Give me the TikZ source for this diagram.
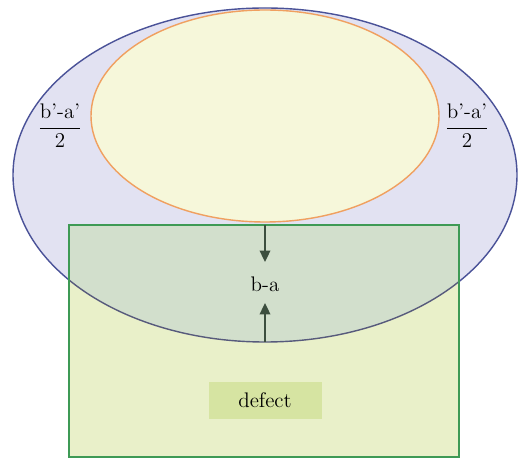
\documentclass[tikz,border=0pt]{standalone}
\usepackage{amsmath}
\usepackage{tikz}
\usetikzlibrary{arrows.meta,positioning,calc}
\usepackage{xcolor}
\definecolor{lavender}{HTML}{E2E2F2}
\definecolor{navyline}{HTML}{4A5298}
\definecolor{cream}{HTML}{F6F7DA}
\definecolor{peach}{HTML}{F0A060}
\definecolor{leaf}{HTML}{E9F0C9}
\definecolor{sage}{HTML}{D2DFCC}
\definecolor{leafline}{HTML}{3E9A55}
\definecolor{moss}{HTML}{D6E4A2}
\definecolor{darkarrow}{HTML}{3C4E3E}

\begin{document}
\begin{tikzpicture}[
    lbl/.style={font=\large, inner sep=1pt},
    gap/.style={-{Triangle[width=6pt,length=6.5pt]}, line width=1.1pt, draw=darkarrow}
  ]
  \useasboundingbox (0,0) rectangle (10.48,9.18);
  \fill[white] (0,0) rectangle (10.48,9.18);
  % outer and inner ellipse
  \draw[line width=0.8pt, draw=navyline, fill=lavender] (5.30,5.68) ellipse (5.04 and 3.34);
  \draw[line width=0.8pt, draw=peach, fill=cream] (5.30,6.86) ellipse (3.48 and 2.12);
  % defect region
  \fill[leaf] (1.38,0.04) rectangle (9.18,4.68);
  \begin{scope}
    \clip (5.30,5.68) ellipse (5.04 and 3.34);
    \fill[sage] (1.38,0.04) rectangle (9.18,4.68);
  \end{scope}
  \begin{scope}
    \clip (1.38,0.04) rectangle (9.18,4.68);
    \draw[line width=0.8pt, draw=navyline!60!black!80] (5.30,5.68) ellipse (5.04 and 3.34);
  \end{scope}
  \draw[line width=0.9pt, draw=leafline] (1.38,0.04) rectangle (9.18,4.68);
  \node[fill=moss, minimum width=2.26cm, minimum height=0.74cm, font=\large] (defect) at (5.30,1.17) {defect};
  \node[lbl] (ba) at (5.30,3.50) {b-a};
  \coordinate (rtop) at (5.30,4.68);
  \coordinate (ebot) at (5.30,2.34);
  \coordinate (tiptop) at (5.30,3.94);
  \coordinate (tipbot) at (5.30,3.12);
  \draw[gap] (rtop) -- (tiptop);
  \draw[gap] (ebot) -- (tipbot);
  % half differences
  \node[lbl] (left) at (1.20,6.66) {$\dfrac{\text{b’-a’}}{2}$};
  \node[lbl] (right) at (9.34,6.66) {$\dfrac{\text{b’-a’}}{2}$};
\end{tikzpicture}
\end{document}
